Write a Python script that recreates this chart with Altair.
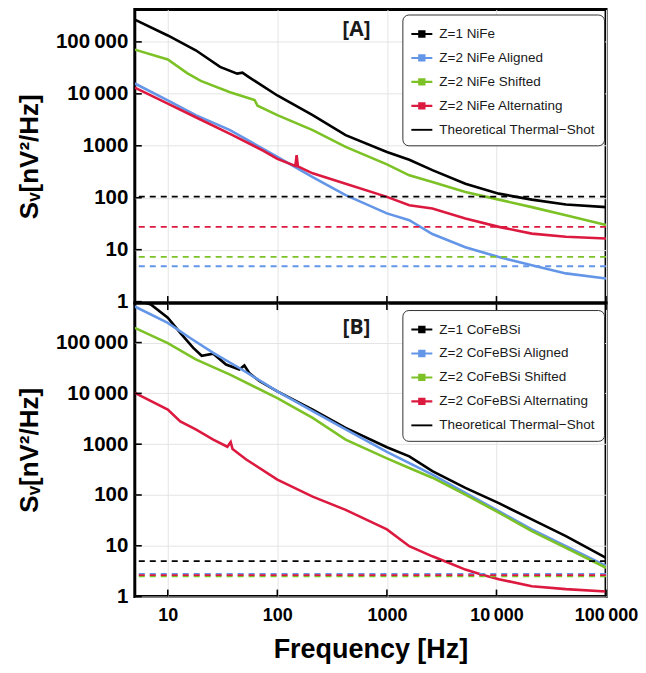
import altair as alt
import pandas as pd

# ---------------- data ----------------
FREQ_TICKS = [10, 100, 1000, 10000, 100000]
Y_TICKS = [1, 10, 100, 1000, 10000, 100000]

NAMES_A = ["Z=1 NiFe", "Z=2 NiFe Aligned", "Z=2 NiFe Shifted", "Z=2 NiFe Alternating",
           "Theoretical Thermal\u2212Shot"]
NAMES_B = ["Z=1 CoFeBSi", "Z=2 CoFeBSi Aligned", "Z=2 CoFeBSi Shifted", "Z=2 CoFeBSi Alternating",
           "Theoretical Thermal\u2212Shot"]
COLORS = ["#000000", "#6496E8", "#7CC226", "#DC1A40"]

# Panel A (NiFe)
a_black_f = [5, 10, 18, 30, 43, 48, 55, 100, 210, 420, 1000, 1600, 2600, 5200, 10500, 21000, 43000, 100000]
a_black_v = [269000, 133000, 69000, 33000, 24500, 25500, 21000, 9300, 3900, 1600, 760, 540, 340, 186, 120, 92, 74, 66]

a_blue_f = [5, 10, 18, 37, 100, 210, 420, 1000, 1600, 2600, 5200, 10500, 21000, 43000, 100000]
a_blue_v = [15800, 7500, 3900, 2000, 610, 250, 112, 50, 37, 20, 11.2, 7.2, 5.0, 3.5, 2.8]

a_green_f = [5, 10, 15, 20, 37, 56, 62, 66, 100, 210, 420, 1000, 1600, 2600, 5200, 10500, 21000, 43000, 100000]
a_green_v = [71000, 46000, 25000, 17800, 10700, 8100, 7600, 5900, 3900, 2000, 955, 440, 270, 200, 129, 92, 66, 46, 30]

a_red_f = [5, 10, 18, 37, 74, 100, 146, 150, 154, 210, 420, 1000, 1600, 2600, 5200, 10500, 21000, 43000, 100000]
a_red_v = [13200, 6500, 3550, 1700, 810, 560, 410, 660, 400, 295, 186, 104, 72, 62, 40, 27.5, 20.4, 17.8, 16.4]

a_thermal = [105, 4.8, 7.3, 27.5]   # black, blue, green, red dashed levels

# Panel B (CoFeBSi)
b_black_f = [5, 7, 10, 13, 17, 20.4, 26, 34, 45, 50, 56, 69, 100, 210, 420, 1000, 1600, 2600, 5200, 10500, 21000, 43000, 100000]
b_black_v = [708000, 562000, 309000, 155000, 79400, 55000, 60300, 37000, 29500, 35500, 24500, 17400, 11000, 4800, 2100, 870, 575, 295, 138, 69, 33, 15.5, 5.8]

b_blue_f = [5, 10, 16, 26, 45, 100, 210, 420, 1000, 2600, 5200, 10500, 21000, 43000, 100000]
b_blue_v = [513000, 245000, 123000, 63000, 31600, 11000, 4470, 1950, 708, 251, 110, 48, 21, 9.8, 4.0]

b_green_f = [5, 10, 18, 37, 100, 210, 420, 1000, 1600, 2600, 5200, 10500, 21000, 43000, 100000]
b_green_v = [195000, 98000, 46800, 23400, 8100, 3300, 1230, 525, 340, 219, 102, 45, 19.5, 9.1, 3.7]

b_red_f = [5, 10, 13, 18, 26, 35, 37.5, 39, 52, 100, 210, 420, 1000, 1600, 2600, 3700, 5200, 7400, 10500, 21000, 43000, 100000]
b_red_v = [10200, 4800, 2800, 1950, 1230, 890, 1100, 800, 500, 200, 93, 51, 21, 9.8, 6.2, 4.6, 3.4, 2.7, 2.2, 1.6, 1.4, 1.26]

b_thermal = [5.0, 2.8, 2.5, 2.65]   # black, blue, green, red dashed levels

# legend symbols: line with square marker, plain line for the theory
SYM_MARK = "M-1,-0.1H1V0.1H-1Z M-0.35,-0.35H0.35V0.35H-0.35Z"
SYM_LINE = "M-1,-0.09H1V0.09H-1Z"

W, H = 472, 294
FONT = "Liberation Sans"
LABEL_EXPR = ("datum.value >= 10000 ? replace(format(datum.value, ','), ',', '\u2009') "
              ": format(datum.value, 'd')")


def panel(names, curves, thermal, ydomain, tag, tag_y, bottom, legend_y, top_ticks):
    rows = []
    for name, (fs, vs) in zip(names[:4], curves):
        for f, v in zip(fs, vs):
            rows.append({"f": f, "v": v, "series": name})
    df = pd.DataFrame(rows)
    th = pd.DataFrame({"v": thermal, "series": names[:4]})
    leg = pd.DataFrame({"series": names})

    xscale = alt.Scale(type="log", domain=[5, 100000], nice=False)
    yscale = alt.Scale(type="log", domain=ydomain, nice=False)
    cscale = alt.Scale(domain=names[:4], range=COLORS)

    if bottom:
        xaxis = alt.Axis(values=FREQ_TICKS, ticks=False, domain=False, title="Frequency [Hz]",
                         labelExpr=LABEL_EXPR, labelFont=FONT, labelFontSize=18,
                         labelFontWeight="bold", labelColor="black", labelPadding=10,
                         labelOverlap=False, labelFlush=False,
                         titleFont=FONT, titleFontSize=27, titleFontWeight="bold",
                         titleColor="black", titlePadding=12,
                         grid=True, gridColor="#e4e4e4", gridWidth=1)
    else:
        xaxis = alt.Axis(values=FREQ_TICKS, ticks=False, domain=False, labels=False, title=None,
                         grid=True, gridColor="#e4e4e4", gridWidth=1)
    yaxis = alt.Axis(values=Y_TICKS, ticks=False, domain=False, labelExpr=LABEL_EXPR,
                     labelFont=FONT, labelFontSize=20.5, labelFontWeight="bold", labelColor="black",
                     labelPadding=7, labelOverlap=False, labelFlush=False,
                     title="S\u1d65[nV\u00b2/Hz]", titleFont=FONT, titleFontSize=26,
                     titleFontWeight="bold", titleColor="black", titleX=-92,
                     grid=True, gridColor="#e4e4e4", gridWidth=1)

    lines = alt.Chart(df).mark_line(strokeWidth=2.6, clip=True).encode(
        x=alt.X("f:Q", scale=xscale, axis=xaxis),
        y=alt.Y("v:Q", scale=yscale, axis=yaxis),
        color=alt.Color("series:N", scale=cscale, legend=None),
    )
    dashes = alt.Chart(th).mark_rule(strokeDash=[6, 5], strokeWidth=1.8).encode(
        y=alt.Y("v:Q"),
        color=alt.Color("series:N", scale=cscale, legend=None),
    )
    legend_kw = dict(orient="none", legendX=268, legendY=legend_y, title=None,
                     strokeColor="#333333", cornerRadius=6, padding=9, fillColor="white",
                     labelFont=FONT, labelFontSize=13.5, labelColor="#1a1a1a", labelLimit=260,
                     labelOffset=7, symbolSize=441, symbolStrokeWidth=0, symbolOpacity=1,
                     rowPadding=7)
    legend = alt.Chart(leg).mark_point(filled=True, opacity=0).encode(
        fill=alt.Fill("series:N", scale=alt.Scale(domain=names, range=COLORS + ["#000000"]),
                      legend=alt.Legend(**legend_kw)),
        shape=alt.Shape("series:N", scale=alt.Scale(domain=names, range=[SYM_MARK] * 4 + [SYM_LINE]),
                        legend=alt.Legend(**legend_kw)),
    )
    xt = pd.DataFrame({"f": FREQ_TICKS})
    yt = pd.DataFrame({"v": Y_TICKS})
    xticks = alt.Chart(xt).mark_rule(color="black", strokeWidth=1.6).encode(
        x="f:Q", y=alt.value(H), y2=alt.value(H - 7))
    yticks = alt.Chart(yt).mark_rule(color="black", strokeWidth=1.6).encode(
        y="v:Q", x=alt.value(0), x2=alt.value(7))
    layers = [lines, dashes, xticks, yticks]
    if top_ticks:
        layers.append(alt.Chart(xt).mark_rule(color="black", strokeWidth=1.6).encode(
            x="f:Q", y=alt.value(0), y2=alt.value(7)))
    label = alt.Chart(pd.DataFrame({"t": [tag]})).mark_text(
        font="Open Sans", fontSize=21, fontWeight="bold", color="#1a1a1a").encode(
        text="t:N", x=alt.value(222), y=alt.value(tag_y))
    layers += [label, legend]
    return alt.layer(*layers).properties(width=W, height=H)


panel_a = panel(NAMES_A,
                [(a_black_f, a_black_v), (a_blue_f, a_blue_v), (a_green_f, a_green_v), (a_red_f, a_red_v)],
                a_thermal, [0.94, 420000], "[A]", 21, False, 5, False)
panel_b = panel(NAMES_B,
                [(b_black_f, b_black_v), (b_blue_f, b_blue_v), (b_green_f, b_green_v), (b_red_f, b_red_v)],
                b_thermal, [1, 600000], "[B]", 25, True, 7, True)

chart = alt.vconcat(panel_a, panel_b, spacing=0, bounds="flush").resolve_scale(
    x="independent", y="independent", color="independent", fill="independent", shape="independent"
).resolve_legend(fill="independent", shape="independent").properties(
    autosize=alt.AutoSizeParams(type="none"),
    padding={"left": 127, "top": 1, "right": 32, "bottom": 656}
).configure(
    background="white",
    view=alt.ViewConfig(stroke="black", strokeWidth=3),
)

chart.save("out.html", embed_options={"renderer": "svg", "actions": False})
